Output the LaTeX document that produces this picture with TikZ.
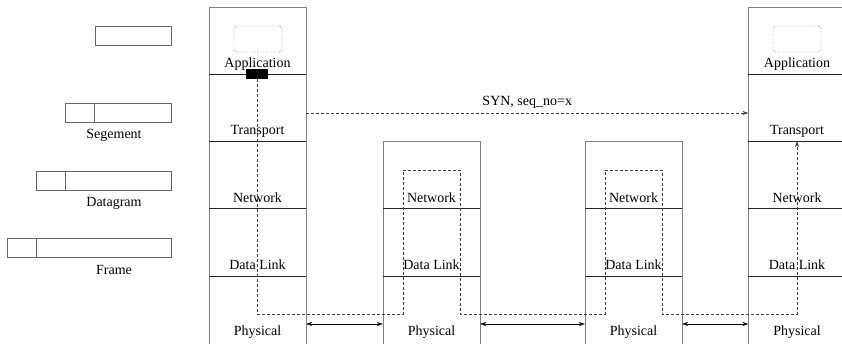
\documentclass[tikz,border=0pt]{standalone}
\usepackage{fontspec}
\setmainfont{Liberation Serif}
\usetikzlibrary{arrows.meta,positioning}

\begin{document}
\begin{tikzpicture}[x=1pt,y=-1pt,font=\fontsize{14}{16}\selectfont,
    stack/.style={draw=black!50,minimum width=97pt,anchor=north,inner sep=0pt},
    proc/.style={draw=black!55,dash pattern=on 1.2pt off 1.5pt,rounded corners=3pt,minimum width=48pt,minimum height=26pt},
    pkt/.style={draw=black!60},
    flow/.style={dash pattern=on 3pt off 2pt,black!75},
    >={Stealth[length=6pt,width=4pt]}]
  \useasboundingbox (0,0) rectangle (842,343);

  % hosts and routers
  \node[stack,minimum height=340pt] (hostA) at (257.5,7) {};
  \node[stack,minimum height=340pt] (hostB) at (797,7) {};
  \node[stack,minimum height=206pt] (rtrA) at (431.5,141) {};
  \node[stack,minimum height=206pt] (rtrB) at (633.5,141) {};

  \foreach \n/\lab [count=\i] in {app/Application,trans/Transport,net/Network,link/Data Link,phys/Physical} {
    \node (A-\n) at (257.5,64+67*\i-67) {\lab};
    \node (B-\n) at (797,64+67*\i-67) {\lab};
  }
  \foreach \n/\lab [count=\i from 3] in {net/Network,link/Data Link,phys/Physical} {
    \node (R1-\n) at (431.5,64+67*\i-67) {\lab};
    \node (R2-\n) at (633.5,64+67*\i-67) {\lab};
  }
  \foreach \y in {74,141,208,276} {
    \draw[black!85] (hostA.west |- 0,\y) -- (hostA.east |- 0,\y);
    \draw[black!85] (hostB.west |- 0,\y) -- (hostB.east |- 0,\y);
  }
  \foreach \y in {208,276} {
    \draw[black!85] (rtrA.west |- 0,\y) -- (rtrA.east |- 0,\y);
    \draw[black!85] (rtrB.west |- 0,\y) -- (rtrB.east |- 0,\y);
  }

  % processes and socket
  \node[proc] (procA) at (258,39) {};
  \node[proc] (procB) at (797,39) {};
  \node[fill,minimum width=22pt,minimum height=10pt,inner sep=0pt] (sock) at (257,74) {};
  \draw[dotted,black!60] (procA) -- (sock);

  % segment path
  \draw[flow,->] (sock.south) -- (sock.south |- 0,314) -- (403,314) -- (403,170) -- (460,170)
    -- (460,314) -- (605,314) -- (605,170) -- (662,170) -- (662,314) -- (797,314) -- (797,141);
  \draw[flow,->] (hostA.east |- 0,113) -- node[above=1pt,black] {SYN, seq\_no=x} (hostB.west |- 0,113);

  % links
  \draw[<->] (hostA.east |- 0,324) -- (rtrA.west |- 0,324);
  \draw[<->] (rtrA.east |- 0,324) -- (rtrB.west |- 0,324);
  \draw[<->] (rtrB.east |- 0,324) -- (hostB.west |- 0,324);

  % packet formats
  \draw[pkt] (95,26) rectangle (171,45);
  \foreach \y/\l/\lab in {103/65/Segement,171/36/Datagram,238/7/Frame} {
    \draw[pkt] (\l,\y) rectangle (171,\y+19);
    \draw[pkt] (\l+29,\y) -- (\l+29,\y+19);
    \node (lbl-\lab) at (114,\y+32) {\lab};
  }
\end{tikzpicture}
\end{document}
